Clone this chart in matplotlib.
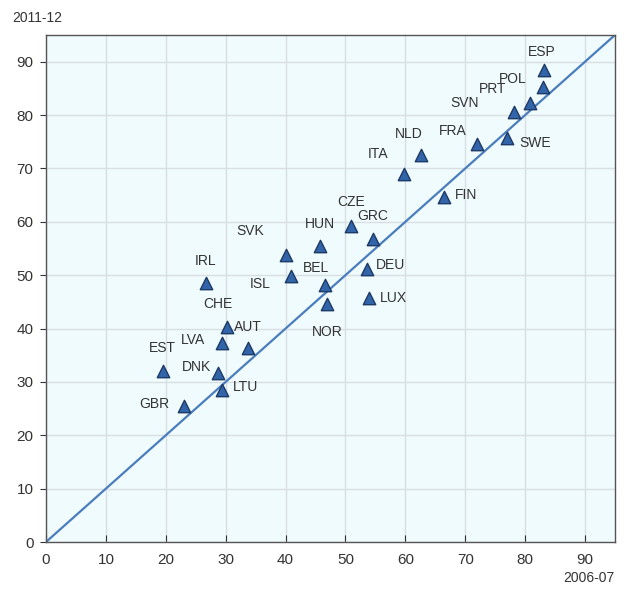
import matplotlib
matplotlib.use("Agg")
import matplotlib.pyplot as plt

plt.rcParams['font.family'] = ['Liberation Sans', 'DejaVu Sans']

countries = ["ESP", "POL", "PRT", "SVN", "SWE", "FRA", "NLD", "ITA", "FIN", "CZE",
             "GRC", "HUN", "DEU", "BEL", "NOR", "LUX", "IRL", "SVK", "ISL", "CHE",
             "AUT", "LVA", "EST", "DNK", "LTU", "GBR"]
x_2006 = [83.2, 83.0, 80.8, 78.1, 76.9, 71.9, 62.6, 59.7, 66.5, 51.0,
          54.6, 45.7, 53.6, 46.5, 46.9, 53.9, 26.7, 40.0, 40.9, 30.3,
          33.8, 29.4, 19.5, 28.8, 29.4, 23.1]
y_2011 = [88.4, 85.2, 82.3, 80.6, 75.7, 74.6, 72.6, 69.0, 64.7, 59.3,
          56.8, 55.4, 51.1, 48.2, 44.6, 45.7, 48.5, 53.8, 49.9, 40.2,
          36.4, 37.3, 32.1, 31.6, 28.5, 25.4]
# label offsets in pixels (dx, dy)
label_off = {
    "ESP": (-3, 18), "POL": (-30, 8), "PRT": (-37, 14), "SVN": (-49, 9),
    "SWE": (29, -5), "FRA": (-24, 13), "NLD": (-12, 21), "ITA": (-26, 20),
    "FIN": (22, 2), "CZE": (0, 24), "GRC": (0, 23), "HUN": (0, 22),
    "DEU": (24, 4), "BEL": (-9, 17), "NOR": (0, -28), "LUX": (25, 0),
    "IRL": (0, 22), "SVK": (-35, 24), "ISL": (-31, -8), "CHE": (-10, 23),
    "AUT": (-1, 21), "LVA": (-29, 3), "EST": (0, 23), "DNK": (-22, 6),
    "LTU": (23, 3), "GBR": (-30, 2),
}
ticks = [0, 10, 20, 30, 40, 50, 60, 70, 80, 90]

fig = plt.figure(figsize=(6.24, 5.92), dpi=100)
ax = fig.add_axes([46/624, 50/592, (615-46)/624, (542-35)/592])
ax.set_facecolor('#f0fbfd')
ax.set_xlim(0, 95)
ax.set_ylim(0, 95)
ax.set_xticks(ticks)
ax.set_yticks(ticks)
ax.grid(True, color='#d8dfe3', linewidth=1.0)
ax.set_axisbelow(True)
for s in ax.spines.values():
    s.set_color('#555555')
    s.set_linewidth(1.0)
ax.tick_params(axis='x', direction='in', length=5, color='#333333', labelsize=11,
               labelcolor='#333333', pad=8)
ax.tick_params(axis='y', direction='out', length=4, color='#333333', labelsize=11,
               labelcolor='#333333', pad=5)

ax.plot([0, 95], [0, 95], color='#4a7dbd', linewidth=1.6, zorder=2)
ax.scatter(x_2006, y_2011, marker='^', s=80, facecolor='#3264aa',
           edgecolor='#1d3a66', linewidth=1.0, zorder=3)
for c, xv, yv in zip(countries, x_2006, y_2011):
    dx, dy = label_off[c]
    ax.annotate(c, (xv, yv), xytext=(dx, dy), textcoords='offset pixels',
                ha='center', va='center', fontsize=10, color='#333333', zorder=4)

fig.text(12/624, 1 - 18/592, "2011-12", fontsize=10, color='#333333', va='center', ha='left')
fig.text(614/624, 1 - 578/592, "2006-07", fontsize=10, color='#333333', va='center', ha='right')

fig.savefig("out.png", dpi=100, facecolor='white')
